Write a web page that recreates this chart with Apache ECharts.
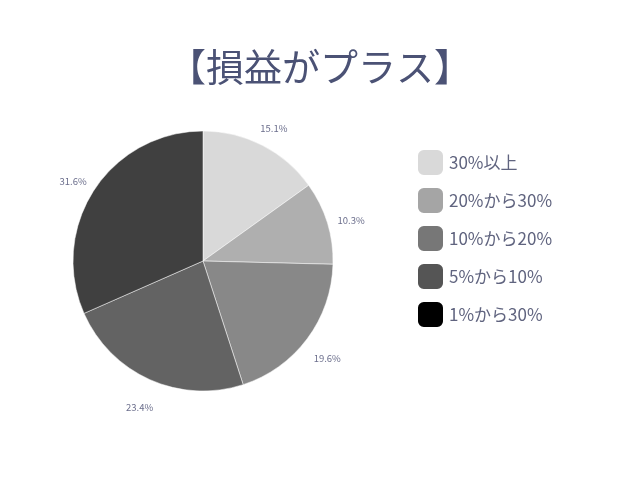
<!DOCTYPE html>
<html>
<head>
<meta charset="utf-8">
<script src="https://cdn.jsdelivr.net/npm/echarts@6/dist/echarts.min.js"></script>
<style>
  html, body { margin: 0; padding: 0; background: #fff; }
  #main { width: 640px; height: 480px; }
</style>
</head>
<body>
<div id="main"></div>
<script>
// slices go clockwise from 12 o'clock
const categories = ['30%以上', '20%から30%', '10%から20%', '5%から10%', '1%から30%']
const values = [15.1, 10.3, 19.6, 23.4, 31.6]
const sliceColors = ['#d9d9d9', '#afafaf', '#888888', '#636363', '#404040']
const legendColors = ['#d9d9d9', '#a5a5a5', '#777777', '#555555', '#000000']

const font = '"Noto Sans CJK JP", "Noto Sans", sans-serif'

const chart = echarts.init(document.getElementById('main'), null, { renderer: 'canvas' })

const pieData = categories.map(function (name, i) {
  return { name: name, value: values[i], itemStyle: { color: sliceColors[i] } }
})
const labelData = categories.map(function (name, i) {
  return { name: name, value: values[i] }
})

const option = {
  backgroundColor: '#ffffff',
  animation: false,
  title: {
    text: '【損益がプラス】',
    left: 'center',
    top: 48,
    padding: 0,
    textStyle: {
      color: '#4b5275',
      fontSize: 38,
      fontWeight: 'normal',
      fontFamily: font
    }
  },
  legend: {
    orient: 'vertical',
    left: 416,
    top: 148,
    padding: 0,
    itemWidth: 27,
    itemHeight: 27,
    itemGap: 9,
    icon: 'roundRect',
    selectedMode: false,
    textStyle: {
      color: '#60647f',
      fontSize: 17,
      lineHeight: 27,
      fontFamily: font
    },
    data: categories.map(function (name, i) {
      return { name: name, itemStyle: { color: legendColors[i] } }
    })
  },
  series: [
    {
      type: 'pie',
      center: [203, 261],
      radius: [0, 130],
      startAngle: 90,
      clockwise: true,
      silent: true,
      itemStyle: { borderColor: '#ffffff', borderWidth: 0.5 },
      label: { show: false },
      labelLine: { show: false },
      data: pieData
    },
    {
      // invisible ring only used to place the percentage labels
      type: 'pie',
      center: [203, 261],
      radius: [142, 162],
      startAngle: 90,
      clockwise: true,
      silent: true,
      legendHoverLink: false,
      itemStyle: { color: 'rgba(0,0,0,0)' },
      label: {
        show: true,
        position: 'inside',
        formatter: function (p) { return p.value.toFixed(1) + '%' },
        color: '#6b6e8c',
        fontSize: 9.5,
        fontFamily: font,
        offset: [0, 5]
      },
      labelLine: { show: false },
      data: labelData
    }
  ]
}

chart.setOption(option)
</script>
</body>
</html>
